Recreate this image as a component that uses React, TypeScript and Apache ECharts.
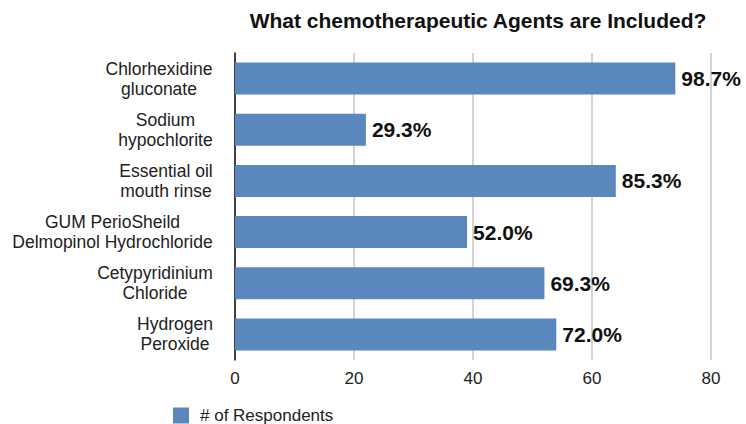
import React, { useEffect, useRef } from "react";
import * as echarts from "echarts";

const categories = [
  "Chlorhexidine\ngluconate",
  "Sodium\nhypochlorite",
  "Essential oil\nmouth rinse",
  "GUM PerioSheild\nDelmopinol Hydrochloride",
  "Cetypyridinium\nChloride",
  "Hydrogen\nPeroxide",
];
const respondents = [74, 22, 64, 39, 52, 54];
const totalRespondents = 75;
const xTicks = [0, 20, 40, 60, 80];

const FONT = "'Liberation Sans', Arial, Helvetica, sans-serif";
const BAR = "#5b87bf";
const CAT_SIZE = 17.5;

// Width of the widest line of each category label, so the lines of a label
// can be centred on each other while the block stays right-aligned.
function blockWidths(labels: string[]): number[] {
  const ctx = document.createElement("canvas").getContext("2d");
  if (!ctx) return labels.map(() => 200);
  ctx.font = `${CAT_SIZE}px ${FONT}`;
  return labels.map((l) =>
    Math.ceil(Math.max(...l.split("\n").map((s) => ctx.measureText(s).width)))
  );
}

export default function App() {
  const ref = useRef<HTMLDivElement>(null);
  useEffect(() => {
    if (!ref.current) return;
    const chart = echarts.init(ref.current, undefined, { renderer: "svg" });
    const widths = blockWidths(categories);
    const rich: Record<string, any> = {};
    widths.forEach((w, i) => {
      rich["c" + i] = {
        width: w,
        align: "center",
        fontFamily: FONT,
        fontSize: CAT_SIZE,
        color: "#222",
        lineHeight: 20,
      };
    });
    chart.setOption({
      animation: false,
      backgroundColor: "#ffffff",
      textStyle: { fontFamily: FONT },
      title: {
        text: "What chemotherapeutic Agents are Included?",
        left: 473,
        textAlign: "center",
        top: 5,
        textStyle: { fontFamily: FONT, fontSize: 21, fontWeight: "bold", color: "#111" },
      },
      legend: {
        left: 168,
        top: 402,
        itemWidth: 16,
        itemHeight: 16,
        icon: "rect",
        textStyle: { fontFamily: FONT, fontSize: 17, color: "#222", padding: [0, 0, 0, 6] },
        data: ["# of Respondents"],
      },
      grid: { left: 235, right: 35, top: 53, bottom: 64, containLabel: false },
      xAxis: {
        type: "value",
        min: xTicks[0],
        max: xTicks[xTicks.length - 1],
        interval: 20,
        axisLine: { show: false },
        axisTick: { show: false },
        axisLabel: { fontFamily: FONT, fontSize: 17, color: "#222", margin: 10 },
        splitLine: { show: true, lineStyle: { color: "#c6c6c6", width: 1.5 } },
      },
      yAxis: {
        type: "category",
        inverse: true,
        data: categories,
        axisLine: { show: true, lineStyle: { color: "#111", width: 1.5 } },
        axisTick: { show: false },
        axisLabel: {
          fontFamily: FONT,
          fontSize: CAT_SIZE,
          color: "#222",
          lineHeight: 20,
          align: "right",
          margin: 22,
          formatter: (v: string, i: number) =>
            v
              .split("\n")
              .map((s) => `{c${i}|${s}}`)
              .join("\n"),
          rich,
        },
      },
      series: [
        {
          name: "# of Respondents",
          type: "bar",
          data: respondents,
          barCategoryGap: "37.5%",
          itemStyle: { color: BAR },
          label: {
            show: true,
            position: "right",
            distance: 6,
            fontFamily: FONT,
            fontSize: 21,
            fontWeight: "bold",
            color: "#111",
            formatter: (p: any) => ((p.value / totalRespondents) * 100).toFixed(1) + "%",
          },
        },
      ],
    });
    return () => chart.dispose();
  }, []);
  return (
    <div
      ref={ref}
      style={{ position: "fixed", left: 0, top: 0, width: 746, height: 424 }}
    />
  );
}
